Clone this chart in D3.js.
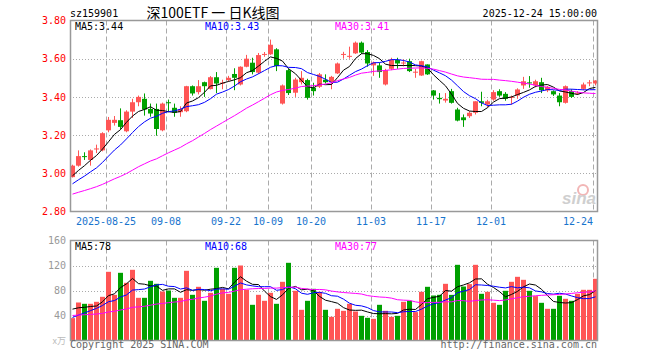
<!DOCTYPE html>
<html lang="zh">
<head>
<meta charset="utf-8">
<script src="https://d3js.org/d3.v7.min.js"></script>
<style>
  body { margin: 0; background: #fff; }
  text { font-family: "DejaVu Sans Mono", monospace; font-size: 10px; }
</style>
</head>
<body>
<div id="chart"></div>
<script>
// daily bars 2025-08-15 .. 2025-12-24
var open  = [2.98,3.04,3.09,3.07,3.125,3.12,3.225,3.264,3.278,3.22, 3.323,3.372,3.39,3.337,3.337,3.225,3.372,3.343,3.32,3.325,
             3.456,3.425,3.477,3.441,3.503,3.47,3.488,3.52,3.465,3.558, 3.579,3.527,3.62,3.623,3.649,3.365,3.54,3.422,3.477,3.488,
             3.448,3.453,3.49,3.477,3.523,3.62,3.61,3.628,3.684,3.635, 3.565,3.565,3.465,3.547,3.593,3.575,3.587,3.528,3.512,3.57,
             3.434,3.395,3.381,3.43,3.334,3.293,3.299,3.317,3.377,3.36, 3.386,3.43,3.416,3.395,3.407,3.46,3.476,3.46,3.477,3.434,
             3.43,3.407,3.369,3.43,3.418,3.442,3.472,3.47];
var close = [3.04,3.09,3.085,3.12,3.13,3.21,3.28,3.28,3.243,3.323, 3.372,3.40,3.334,3.313,3.232,3.365,3.368,3.317,3.334,3.456,
             3.418,3.456,3.456,3.503,3.47,3.475,3.50,3.50,3.558,3.60, 3.53,3.619,3.625,3.673,3.561,3.46,3.42,3.491,3.50,3.395,
             3.43,3.518,3.477,3.505,3.575,3.625,3.615,3.684,3.632,3.575, 3.58,3.53,3.54,3.596,3.575,3.58,3.535,3.532,3.587,3.518,
             3.407,3.388,3.39,3.369,3.276,3.278,3.317,3.377,3.369,3.377, 3.425,3.407,3.39,3.40,3.439,3.482,3.472,3.482,3.435,3.453,
             3.413,3.372,3.456,3.40,3.422,3.465,3.476,3.486];
var high  = [3.045,3.12,3.11,3.125,3.15,3.215,3.295,3.30,3.34,3.33, 3.39,3.407,3.418,3.365,3.365,3.37,3.386,3.365,3.351,3.458,
             3.46,3.488,3.48,3.509,3.53,3.49,3.51,3.55,3.56,3.62, 3.605,3.63,3.635,3.70,3.655,3.465,3.547,3.50,3.535,3.495,
             3.474,3.525,3.518,3.51,3.58,3.636,3.663,3.69,3.69,3.645, 3.585,3.58,3.547,3.605,3.605,3.596,3.60,3.547,3.59,3.57,
             3.436,3.42,3.42,3.442,3.343,3.308,3.325,3.377,3.427,3.385, 3.435,3.44,3.425,3.407,3.445,3.505,3.509,3.49,3.50,3.458,
             3.434,3.42,3.46,3.44,3.43,3.475,3.488,3.487];
var low   = [2.978,3.035,3.07,3.04,3.106,3.115,3.215,3.25,3.23,3.215, 3.29,3.351,3.302,3.296,3.197,3.22,3.32,3.296,3.296,3.32,
             3.407,3.413,3.40,3.439,3.42,3.44,3.48,3.435,3.46,3.555, 3.518,3.52,3.61,3.62,3.535,3.36,3.41,3.40,3.465,3.386,
             3.407,3.447,3.47,3.44,3.52,3.60,3.60,3.625,3.625,3.558, 3.51,3.50,3.46,3.54,3.547,3.56,3.53,3.50,3.51,3.515,
             3.386,3.365,3.37,3.365,3.272,3.243,3.29,3.308,3.351,3.345, 3.38,3.40,3.38,3.36,3.39,3.442,3.448,3.45,3.42,3.425,
             3.405,3.351,3.365,3.395,3.41,3.435,3.456,3.46];
// volume, 万手
var vol   = [35.8,60.8,58.7,58.7,61.9,69.9,109.9,73,108.3,92.3, 113.1,68.3,68.3,95.5,90.7,78.4,80,68.3,68.3,111.5,
             73.1,85.9,63.5,76.3,116.3,82.7,74.7,116.3,120,81.1, 57.1,73.1,63.5,76.3,58.7,93.9,124.3,79.5,49.1,63.5,
             82.7,77.9,49.1,37.9,50.7,47.5,58.7,46.4,39.5,36.3, 34.7,57.1,47.5,37.9,39.5,61.9,63.5,45.4,77.9,85.9,
             72,73.1,90.7,73,121.1,86.4,90.2,121.1,74.7,77.9, 60.3,57.1,79.5,93.9,101.9,97.1,79.5,71,60.3,50.7,
             50.7,71.5,66.7,63.5,74.7,81.1,81.1,98.7];
// sessions before the window, only feeding the moving averages
var preClose = [2.80,2.81,2.83,2.82,2.84,2.85,2.84,2.86,2.87,2.85,2.86,2.88,2.87,2.89,2.88,2.90,2.89,2.91,2.90,2.93,
                2.88,2.89,2.90,2.92,2.925,2.95,2.96,2.98,3.005];
var preVol   = [38,45,40,47,36,44,39,48,42,35,46,40,43,37,50,41,39,44,38,40,
                22,25,21,26,23,50,55,52,58.2];

var maPeriods  = [5, 10, 30];
var maPriceTxt = ["3.44", "3.43", "3.41"];
var maVolTxt   = ["78", "68", "77"];

var tickIdx    = [6,16,26,33,40,50,60,70,87];
var tickLabels = ["2025-08-25","09-08","09-22","10-09","10-20","11-03","11-17","12-01","12-24"];
var priceTicks = [2.8,3.0,3.2,3.4,3.6,3.8];
var volTicks   = [40,80,120,160];

var upColor = "#ff5555", downColor = "#00a000";
var maColors = {5: "#000000", 10: "#0000ff", 30: "#ff00ff"};

var W = 660, H = 360;
var left = 70, right = 598;
var pTop = 20.5, pBot = 211.5, vTop = 240.5, vBot = 340.5;

var n = close.length;
var x = d3.scaleBand().domain(d3.range(n)).range([left, right]).paddingInner(0.2).paddingOuter(0);
var y = d3.scaleLinear().domain([2.8, 3.8]).range([pBot, pTop]);
var yv = d3.scaleLinear().domain([0, 160]).range([vBot, vTop]);

function bx(i) { return Math.round(x(i)); }
function cx(i) { return Math.round(x(i)) + 2.5; }

function movAvg(pre, arr, k) {
    var all = pre.concat(arr), out = [];
    for (var i = 0; i < arr.length; i++) {
        var j = i + pre.length;
        out.push(d3.mean(all.slice(j - k + 1, j + 1)));
    }
    return out;
}

var svg = d3.select("#chart").append("svg")
    .attr("width", W).attr("height", H);

/* grid */
function grid(g, top, bot, ys) {
    g.selectAll(".hg").data(ys).enter().append("line")
        .attr("x1", left).attr("x2", right)
        .attr("y1", d => Math.round(d) + 0.5).attr("y2", d => Math.round(d) + 0.5)
        .attr("stroke", "#aaa").attr("stroke-dasharray", "1,2");
    g.selectAll(".vg").data(tickIdx).enter().append("line")
        .attr("x1", d => bx(d) + 0.5).attr("x2", d => bx(d) + 0.5)
        .attr("y1", top).attr("y2", bot)
        .attr("stroke", "#aaa").attr("stroke-dasharray", "5,3");
}
grid(svg.append("g"), pTop, pBot, [3.0, 3.2, 3.4, 3.6].map(y));
grid(svg.append("g"), vTop, vBot, [40, 80, 120].map(yv));

/* candles */
var idx = d3.range(n);
var cg = svg.append("g");
cg.selectAll(".wick").data(idx).enter().append("line")
    .attr("x1", cx).attr("x2", cx)
    .attr("y1", i => y(high[i])).attr("y2", i => y(low[i]))
    .attr("stroke", i => close[i] >= open[i] ? upColor : downColor);
cg.selectAll(".body").data(idx).enter().append("rect")
    .attr("x", bx).attr("width", 5)
    .attr("y", i => y(Math.max(open[i], close[i])))
    .attr("height", i => Math.max(1, Math.abs(y(open[i]) - y(close[i]))))
    .attr("fill", i => close[i] >= open[i] ? upColor : downColor);

/* volume bars */
svg.append("g").selectAll("rect").data(idx).enter().append("rect")
    .attr("x", bx).attr("width", 5)
    .attr("y", i => yv(vol[i]))
    .attr("height", i => vBot - yv(vol[i]))
    .attr("fill", i => close[i] >= open[i] ? upColor : downColor);

/* moving averages */
maPeriods.forEach(function(k) {
    var pm = movAvg(preClose, close, k);
    var vm = movAvg(preVol, vol, k);
    svg.append("path").datum(pm)
        .attr("fill", "none").attr("stroke", maColors[k]).attr("stroke-width", 1)
        .attr("d", d3.line().x((d, i) => cx(i)).y(d => y(d)));
    svg.append("path").datum(vm)
        .attr("fill", "none").attr("stroke", maColors[k]).attr("stroke-width", 1)
        .attr("d", d3.line().x((d, i) => cx(i)).y(d => yv(d)));
});

/* panel frames */
[[pTop, pBot], [vTop, vBot]].forEach(function(p) {
    svg.append("rect").attr("x", left + 0.5).attr("y", p[0])
        .attr("width", right - left - 1).attr("height", p[1] - p[0])
        .attr("fill", "none").attr("stroke", "#999").attr("stroke-width", 1.5);
});

/* axes */
var ya = svg.append("g").attr("transform", "translate(" + left + ",0)")
    .call(d3.axisLeft(y).tickValues(priceTicks).tickSize(0).tickPadding(4).tickFormat(d3.format(".2f")));
ya.select(".domain").remove();
ya.selectAll("text").attr("fill", "#ff0000").style("font-size", "10px")
    .style("font-family", "DejaVu Sans Mono, monospace");

var va = svg.append("g").attr("transform", "translate(" + left + ",0)")
    .call(d3.axisLeft(yv).tickValues(volTicks).tickSize(0).tickPadding(4));
va.select(".domain").remove();
va.selectAll("text").attr("fill", "#999").style("font-size", "10px")
    .style("font-family", "DejaVu Sans Mono, monospace");

svg.append("g").selectAll("text").data(tickIdx).enter().append("text")
    .attr("x", d => bx(d))
    .attr("y", 224.5)
    .attr("text-anchor", (d, i) => i === tickIdx.length - 1 ? "end" : "middle")
    .attr("fill", "#1874cd")
    .text((d, i) => tickLabels[i]);

/* header */
svg.append("text").attr("x", 70).attr("y", 16.5).attr("fill", "#000").text("sz159901");
svg.append("text").attr("x", 213).attr("y", 17.5).attr("text-anchor", "middle")
    .style("font-family", "Noto Sans CJK SC").style("font-size", "14px")
    .text("深100ETF 一 日K线图");
svg.append("text").attr("x", 597).attr("y", 16.5).attr("text-anchor", "end").text("2025-12-24 15:00:00");

/* MA legends */
var legX = [75, 205, 335];
maPeriods.forEach(function(k, j) {
    svg.append("text").attr("x", legX[j]).attr("y", 29.5).attr("fill", maColors[k])
        .text("MA" + k + ":" + maPriceTxt[j]);
    svg.append("text").attr("x", legX[j]).attr("y", 250).attr("fill", maColors[k])
        .text("MA" + k + ":" + maVolTxt[j]);
});

/* unit, footer, watermark */
svg.append("text").attr("x", 66).attr("y", 344).attr("text-anchor", "end")
    .attr("fill", "#bbb").style("font-size", "9px").style("font-family", "Noto Sans CJK SC").text("x万");
svg.append("text").attr("x", 70).attr("y", 348).attr("fill", "#666").text("Copyright 2025 SINA.COM");
svg.append("text").attr("x", 597).attr("y", 348).attr("text-anchor", "end").attr("fill", "#666")
    .text("http://finance.sina.com.cn");
svg.append("circle").attr("cx", 583).attr("cy", 190).attr("r", 5)
    .attr("fill", "none").attr("stroke", "#f2b6b6").attr("stroke-width", 2);
svg.append("text").attr("x", 596).attr("y", 204).attr("text-anchor", "end")
    .attr("fill", "#cfcfcf").style("font-family", "Liberation Sans, sans-serif")
    .style("font-size", "17px").style("font-weight", "bold").style("font-style", "italic")
    .text("sina");
</script>
</body>
</html>
